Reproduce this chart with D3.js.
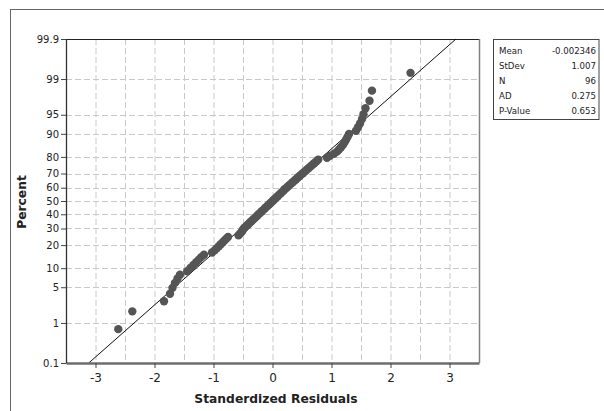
<!DOCTYPE html>
<html>
<head>
<meta charset="utf-8">
<script src="https://cdn.jsdelivr.net/npm/d3@7"></script>
<style>
  body { margin: 0; background: #fff; }
  svg { display: block; font-family: "DejaVu Sans", sans-serif; }
</style>
</head>
<body>
<div id="chart"></div>
<script>
const width = 604;
const height = 411;

// sorted standardized residuals
const residuals = [
  -2.614, -2.376, -1.839, -1.737, -1.695, -1.653, -1.610, -1.568,
  -1.446, -1.392, -1.341, -1.293, -1.249, -1.208, -1.161, -1.025,
  -0.981, -0.946, -0.910, -0.878, -0.846, -0.815, -0.785, -0.754,
  -0.576, -0.551, -0.525, -0.508, -0.492, -0.466, -0.437, -0.410,
  -0.386, -0.359, -0.332, -0.308, -0.281, -0.256, -0.231, -0.207,
  -0.181, -0.156, -0.132, -0.107, -0.083, -0.058, -0.034, -0.010,
   0.015,  0.037,  0.063,  0.088,  0.110,  0.136,  0.161,  0.185,
   0.205,  0.234,  0.261,  0.286,  0.315,  0.341,  0.371,  0.400,
   0.427,  0.456,  0.484,  0.515,  0.546,  0.576,  0.608,  0.639,
   0.673,  0.707,  0.741,  0.776,  0.924,  0.975,  1.042,  1.093,
   1.127,  1.161,  1.195,  1.220,  1.246,  1.271,  1.297,  1.415,
   1.449,  1.483,  1.517,  1.542,  1.576,  1.644,  1.686,  2.339
];

const pctTicks = [0.1, 1, 5, 10, 20, 30, 40, 50, 60, 70, 80, 90, 95, 99, 99.9];
const xTicks = [-3, -2, -1, 0, 1, 2, 3];
const xGrid = [-3, -2.5, -2, -1.5, -1, -0.5, 0, 0.5, 1, 1.5, 2, 2.5, 3];

const statLabels = ["Mean", "StDev", "N", "AD", "P-Value"];
const statValues = ["-0.002346", "1.007", "96", "0.275", "0.653"];
const fitMean = -0.002346;
const fitSd = 1.007;

// inverse normal cdf (Acklam)
function probit(p) {
  const a = [-3.969683028665376e+01, 2.209460984245205e+02, -2.759285104469687e+02, 1.383577518672690e+02, -3.066479806614716e+01, 2.506628277459239e+00];
  const b = [-5.447609879822406e+01, 1.615858368580409e+02, -1.556989798598866e+02, 6.680131188771972e+01, -1.328068155288572e+01];
  const c = [-7.784894002430293e-03, -3.223964580411365e-01, -2.400758277161838e+00, -2.549732539343734e+00, 4.374664141464968e+00, 2.938163982698783e+00];
  const d = [7.784695709041462e-03, 3.224671290700398e-01, 2.445134137142996e+00, 3.754408661907416e+00];
  const pl = 0.02425;
  if (p < pl) {
    const q = Math.sqrt(-2 * Math.log(p));
    return (((((c[0]*q+c[1])*q+c[2])*q+c[3])*q+c[4])*q+c[5]) / ((((d[0]*q+d[1])*q+d[2])*q+d[3])*q+1);
  }
  if (p > 1 - pl) {
    const q = Math.sqrt(-2 * Math.log(1 - p));
    return -(((((c[0]*q+c[1])*q+c[2])*q+c[3])*q+c[4])*q+c[5]) / ((((d[0]*q+d[1])*q+d[2])*q+d[3])*q+1);
  }
  const q = p - 0.5, r = q * q;
  return (((((a[0]*r+a[1])*r+a[2])*r+a[3])*r+a[4])*r+a[5])*q / (((((b[0]*r+b[1])*r+b[2])*r+b[3])*r+b[4])*r+1);
}

const plot = { left: 66, right: 479, top: 39, bottom: 363 };

const svg = d3.select("#chart")
  .append("svg")
  .attr("width", width)
  .attr("height", height);

// outer frame
svg.append("rect")
  .attr("x", 10.5).attr("y", 9.5)
  .attr("width", 700).attr("height", 500)
  .attr("fill", "none")
  .attr("stroke", "#666");

const x = d3.scaleLinear().domain([-3.5, 3.5]).range([plot.left, plot.right]);
const y = d3.scaleLinear().domain([probit(0.001), probit(0.999)]).range([plot.bottom, plot.top]);

// grid
svg.append("g")
  .selectAll("line")
  .data(xGrid)
  .enter()
  .append("line")
  .attr("x1", d => x(d) + 0.5).attr("x2", d => x(d) + 0.5)
  .attr("y1", plot.top).attr("y2", plot.bottom)
  .attr("stroke", "#c8c8c8")
  .attr("stroke-dasharray", "6,3");

svg.append("g")
  .selectAll("line")
  .data(pctTicks.slice(1, -1))
  .enter()
  .append("line")
  .attr("x1", plot.left).attr("x2", plot.right)
  .attr("y1", d => Math.round(y(probit(d / 100))) + 0.5)
  .attr("y2", d => Math.round(y(probit(d / 100))) + 0.5)
  .attr("stroke", "#c8c8c8")
  .attr("stroke-dasharray", "6,3");

// frame of the data region
svg.append("line")
  .attr("x1", plot.left).attr("x2", plot.right)
  .attr("y1", plot.top + 0.5).attr("y2", plot.top + 0.5)
  .attr("stroke", "#222");
svg.append("line")
  .attr("x1", plot.right + 0.5).attr("x2", plot.right + 0.5)
  .attr("y1", plot.top).attr("y2", plot.bottom)
  .attr("stroke", "#808080").attr("stroke-width", 1.5);

// fitted line
const zLo = probit(0.001), zHi = probit(0.999);
svg.append("line")
  .attr("x1", x(fitMean + fitSd * zLo)).attr("y1", y(zLo))
  .attr("x2", x(fitMean + fitSd * zHi)).attr("y2", y(zHi))
  .attr("stroke", "#111")
  .attr("stroke-width", 1);

// points, median ranks
const n = residuals.length;
const points = residuals.map((r, i) => ({ r: r, z: probit((i + 1 - 0.3) / (n + 0.4)) }));

svg.append("g")
  .selectAll("circle")
  .data(points)
  .enter()
  .append("circle")
  .attr("cx", d => x(d.r))
  .attr("cy", d => y(d.z))
  .attr("r", 4.2)
  .attr("fill", "#555");

// axes
const xAxis = svg.append("g")
  .attr("transform", `translate(0,${plot.bottom})`)
  .call(d3.axisBottom(x).tickValues(xTicks).tickSize(5).tickPadding(5).tickFormat(d => String(d)).tickSizeOuter(0));
xAxis.select(".domain").attr("stroke", "#6e6e6e").attr("stroke-width", 2.5);
xAxis.selectAll(".tick line").attr("stroke", "#444");
xAxis.selectAll("text").attr("font-size", 12).attr("fill", "#222").attr("font-family", "DejaVu Sans");

const yAxis = svg.append("g")
  .attr("transform", `translate(${plot.left},0)`)
  .call(d3.axisLeft(y)
    .tickValues(pctTicks.map(p => probit(p / 100)))
    .tickFormat((d, i) => pctTicks[i])
    .tickSize(5).tickPadding(2).tickSizeOuter(0));
yAxis.select(".domain").attr("stroke", "#333").attr("stroke-width", 1.3);
yAxis.selectAll(".tick line").attr("stroke", "#444");
yAxis.selectAll("text").attr("font-size", 10).attr("fill", "#222").attr("font-family", "DejaVu Sans");

// axis titles
svg.append("text")
  .attr("x", 276).attr("y", 403)
  .attr("text-anchor", "middle")
  .attr("font-size", 12.3)
  .attr("font-weight", "bold")
  .attr("fill", "#222")
  .text("Standerdized Residuals");

svg.append("text")
  .attr("transform", "translate(26,202) rotate(-90)")
  .attr("text-anchor", "middle")
  .attr("font-size", 12.3)
  .attr("font-weight", "bold")
  .attr("fill", "#222")
  .text("Percent");

// stats box
const box = svg.append("g");
box.append("rect")
  .attr("x", 493.5).attr("y", 39.5)
  .attr("width", 105.5).attr("height", 80)
  .attr("fill", "#fff")
  .attr("stroke", "#444");

box.selectAll(".slabel")
  .data(statLabels)
  .enter()
  .append("text")
  .attr("class", "slabel")
  .attr("x", 499)
  .attr("y", (d, i) => 53.5 + i * 15)
  .attr("font-size", 8.6)
  .attr("fill", "#222")
  .text(d => d);

box.selectAll(".svalue")
  .data(statValues)
  .enter()
  .append("text")
  .attr("class", "svalue")
  .attr("x", 596)
  .attr("y", (d, i) => 53.5 + i * 15)
  .attr("text-anchor", "end")
  .attr("font-size", 8.6)
  .attr("fill", "#222")
  .text(d => d);
</script>
</body>
</html>
